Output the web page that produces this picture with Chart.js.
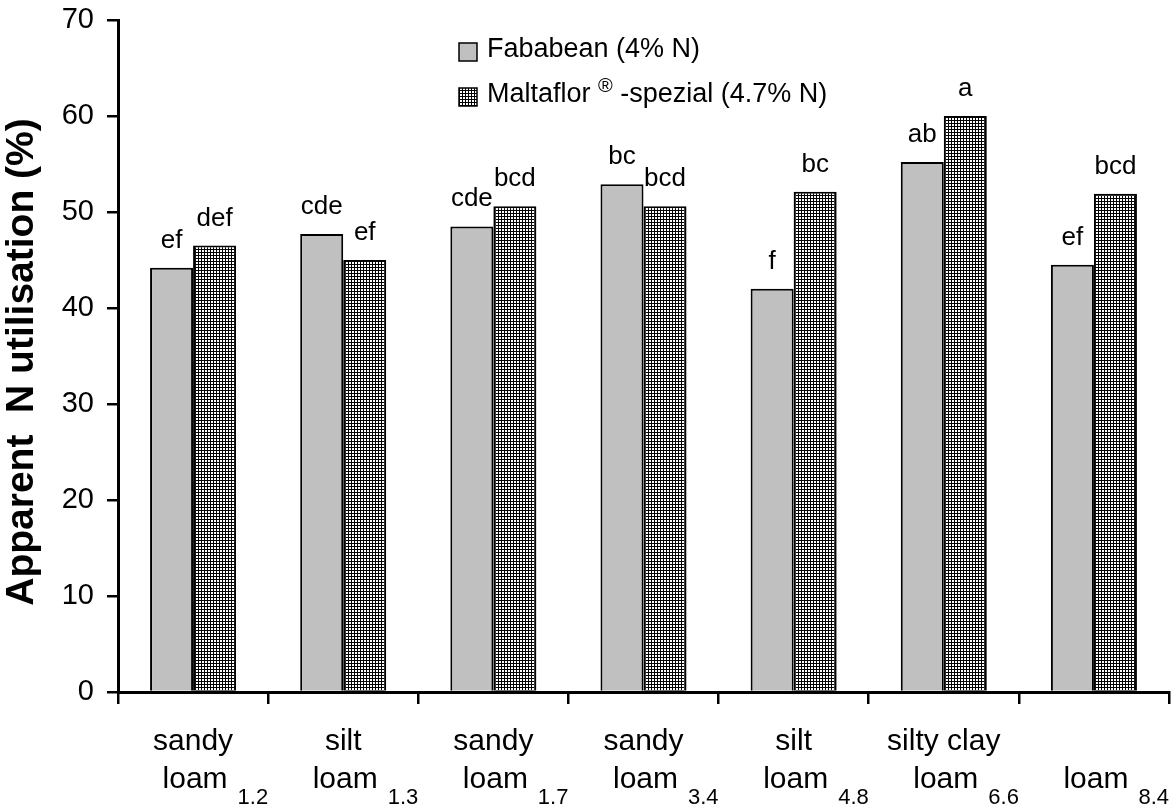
<!DOCTYPE html>
<html>
<head>
<meta charset="utf-8">
<script src="https://cdn.jsdelivr.net/npm/chart.js@4"></script>
<style>
  html, body { margin: 0; padding: 0; background: #fff; }
  #wrap { width: 1172px; height: 809px; }
</style>
</head>
<body>
<div id="wrap"><canvas id="chart" width="1172" height="809"></canvas></div>
<script>
// soil texture (first line) and pH subscript of each site
const soilTop = ['sandy', 'silt', 'sandy', 'sandy', 'silt', 'silty clay', ''];
const soilBottom = ['loam', 'loam', 'loam', 'loam', 'loam', 'loam', 'loam'];
const soilPh = ['1.2', '1.3', '1.7', '3.4', '4.8', '6.6', '8.4'];

const fababean = [44.2, 47.7, 48.5, 52.9, 42.0, 55.2, 44.5];
const maltaflor = [46.5, 45.0, 50.6, 50.6, 52.1, 60.0, 51.9];

const fababeanLetters = ['ef', 'cde', 'cde', 'bc', 'f', 'ab', 'ef'];
const maltaflorLetters = ['def', 'ef', 'bcd', 'bcd', 'bc', 'a', 'bcd'];

const yTicks = [0, 10, 20, 30, 40, 50, 60, 70];

const FONT = '"Liberation Sans", Arial, sans-serif';

// fine black grid hatch used for Maltaflor
function makeHatch() {
  const c = document.createElement('canvas');
  c.width = 3; c.height = 3;
  const g = c.getContext('2d');
  g.fillStyle = '#fff';
  g.fillRect(0, 0, 3, 3);
  g.fillStyle = '#000';
  g.fillRect(0, 0, 3, 1);
  g.fillRect(0, 0, 1, 3);
  return g.createPattern(c, 'repeat');
}
const hatch = makeHatch();

const extras = {
  id: 'extras',
  afterDatasetsDraw(chart) {
    const ctx = chart.ctx;
    ctx.save();
    ctx.fillStyle = '#000';
    ctx.font = '26px ' + FONT;
    ctx.textAlign = 'center';
    ctx.textBaseline = 'alphabetic';
    const sets = [fababeanLetters, maltaflorLetters];
    sets.forEach((letters, di) => {
      chart.getDatasetMeta(di).data.forEach((bar, i) => {
        ctx.fillText(letters[i], bar.x, bar.y - 20);
      });
    });
    ctx.restore();
  },
  afterDraw(chart) {
    const ctx = chart.ctx;
    const x = chart.scales.x;
    ctx.save();
    ctx.fillStyle = '#000';
    ctx.textBaseline = 'alphabetic';

    // category labels with subscript
    soilTop.forEach((t, i) => {
      const cx = x.getPixelForValue(i);
      ctx.font = '30px ' + FONT;
      ctx.textAlign = 'center';
      if (t) ctx.fillText(t, cx, 750);
      const w = ctx.measureText(soilBottom[i]).width;
      const lx = cx + 2 - w / 2;
      ctx.textAlign = 'left';
      ctx.fillText(soilBottom[i], lx, 788);
      ctx.font = '22px ' + FONT;
      ctx.fillText(soilPh[i], lx + w + 10, 804);
    });

    // legend
    const bx = 459, tx = 487;
    ctx.lineWidth = 1.5;
    ctx.strokeStyle = '#000';
    ctx.fillStyle = '#c0c0c0';
    ctx.fillRect(bx, 43, 18, 18);
    ctx.strokeRect(bx, 43, 18, 18);
    ctx.fillStyle = hatch;
    ctx.fillRect(bx, 88, 18, 18);
    ctx.strokeRect(bx, 88, 18, 18);
    ctx.fillStyle = '#000';
    ctx.textAlign = 'left';
    ctx.font = '27px ' + FONT;
    ctx.fillText('Fababean (4% N)', tx, 57);
    let px = tx;
    ctx.fillText('Maltaflor', px, 102);
    px += ctx.measureText('Maltaflor ').width;
    ctx.font = '20px ' + FONT;
    ctx.fillText('\u00AE', px, 92);
    px += ctx.measureText('\u00AE').width;
    ctx.font = '27px ' + FONT;
    ctx.fillText(' -spezial (4.7% N)', px, 102);

    // y axis title
    ctx.translate(33, 362);
    ctx.rotate(-Math.PI / 2);
    ctx.textAlign = 'center';
    ctx.font = 'bold 39px ' + FONT;
    ctx.fillText('Apparent  N utilisation (%)', 0, 0);
    ctx.restore();
  }
};

new Chart(document.getElementById('chart'), {
  type: 'bar',
  data: {
    labels: soilTop.map((t, i) => [t, soilBottom[i] + ' ' + soilPh[i]]),
    datasets: [
      {
        label: 'Fababean (4% N)',
        data: fababean,
        backgroundColor: '#c0c0c0',
        borderColor: '#000',
        borderWidth: 2
      },
      {
        label: 'Maltaflor® -spezial (4.7% N)',
        data: maltaflor,
        backgroundColor: hatch,
        borderColor: '#000',
        borderWidth: 2
      }
    ]
  },
  options: {
    responsive: false,
    animation: false,
    layout: { padding: { top: 20, right: 3, left: 0, bottom: 0 } },
    datasets: {
      bar: { categoryPercentage: 0.573, barPercentage: 1.0 }
    },
    plugins: {
      legend: { display: false },
      title: { display: false },
      tooltip: { enabled: false }
    },
    scales: {
      x: {
        grid: {
          offset: true,
          drawOnChartArea: false,
          color: '#000',
          lineWidth: 2.5,
          tickLength: 12
        },
        border: { color: '#000', width: 3 },
        ticks: { display: false },
        afterFit(scale) {
          scale.height = 117;
          scale.paddingLeft = 0;
          scale.paddingRight = 0;
        }
      },
      y: {
        min: 0,
        max: 70,
        afterBuildTicks(scale) { scale.ticks = yTicks.map(v => ({ value: v })); },
        ticks: {
          color: '#000',
          padding: 13,
          font: { family: FONT, size: 29 }
        },
        grid: {
          drawOnChartArea: false,
          color: '#000',
          lineWidth: 2.5,
          tickLength: 11
        },
        border: { color: '#000', width: 3 },
        afterFit(scale) {
          scale.width = 118;
          scale.paddingTop = 0;
          scale.paddingBottom = 0;
        }
      }
    }
  },
  plugins: [extras]
});
</script>
</body>
</html>
